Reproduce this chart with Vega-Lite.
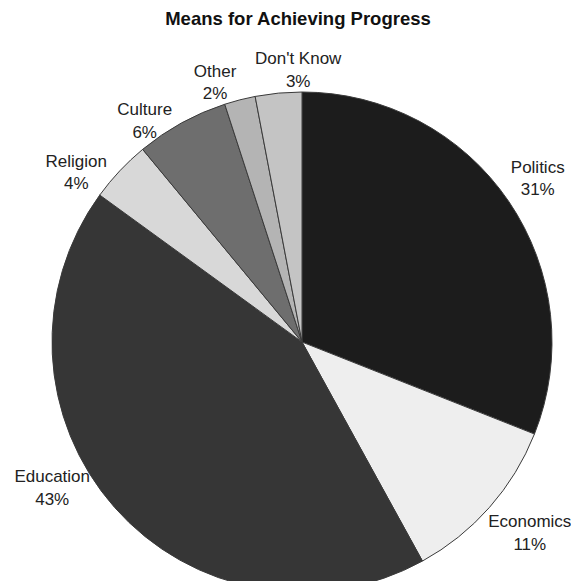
{
  "$schema": "https://vega.github.io/schema/vega-lite/v6.json",
  "width": 500,
  "height": 500,
  "autosize": {"type": "none"},
  "padding": {"left": 52, "top": 92, "right": 19, "bottom": 0},
  "background": "white",
  "title": {
    "text": "Means for Achieving Progress",
    "anchor": "middle",
    "offset": 20,
    "dy": 52,
    "dx": -4,
    "font": "Liberation Sans",
    "fontSize": 18.5,
    "fontWeight": "bold",
    "color": "#111111"
  },
  "data": {
    "values": [
      {"idx": 1, "category": "Politics", "pct": 31, "label": "Politics\n31%"},
      {"idx": 2, "category": "Economics", "pct": 11, "label": "Economics\n11%"},
      {"idx": 3, "category": "Education", "pct": 43, "label": "Education\n43%"},
      {"idx": 4, "category": "Religion", "pct": 4, "label": "Religion\n4%"},
      {"idx": 5, "category": "Culture", "pct": 6, "label": "Culture\n6%"},
      {"idx": 6, "category": "Other", "pct": 2, "label": "Other\n2%"},
      {"idx": 7, "category": "Don't Know", "pct": 3, "label": "Don't Know\n3%"}
    ]
  },
  "encoding": {
    "theta": {"field": "pct", "type": "quantitative", "stack": true},
    "order": {"field": "idx", "type": "quantitative"}
  },
  "layer": [
    {
      "mark": {"type": "arc", "outerRadius": 250, "stroke": "#3a3a3a", "strokeWidth": 1},
      "encoding": {
        "color": {
          "field": "category",
          "type": "nominal",
          "legend": null,
          "scale": {
            "domain": ["Politics", "Economics", "Education", "Religion", "Culture", "Other", "Don't Know"],
            "range": ["#1c1c1c", "#eeeeee", "#363636", "#d8d8d8", "#6e6e6e", "#b4b4b4", "#c4c4c4"]
          }
        }
      }
    },
    {
      "mark": {"type": "text", "radius": 285, "dy": -14, "font": "Liberation Sans", "fontSize": 17, "lineBreak": "\n", "lineHeight": 22.5, "align": "center", "baseline": "middle", "color": "#222222"},
      "encoding": {"text": {"condition": {"test": "datum.category == 'Politics'", "field": "label"}, "value": ""}}
    },
    {
      "mark": {"type": "text", "radius": 285, "dx": 14, "dy": -8, "font": "Liberation Sans", "fontSize": 17, "lineBreak": "\n", "lineHeight": 22.5, "align": "center", "baseline": "middle", "color": "#222222"},
      "encoding": {"text": {"condition": {"test": "datum.category == 'Economics'", "field": "label"}, "value": ""}}
    },
    {
      "mark": {"type": "text", "radius": 285, "dx": -36, "dy": -53, "font": "Liberation Sans", "fontSize": 17, "lineBreak": "\n", "lineHeight": 22.5, "align": "center", "baseline": "middle", "color": "#222222"},
      "encoding": {"text": {"condition": {"test": "datum.category == 'Education'", "field": "label"}, "value": ""}}
    },
    {
      "mark": {"type": "text", "radius": 285, "dx": -18, "dy": 15, "font": "Liberation Sans", "fontSize": 17, "lineBreak": "\n", "lineHeight": 22.5, "align": "center", "baseline": "middle", "color": "#222222"},
      "encoding": {"text": {"condition": {"test": "datum.category == 'Religion'", "field": "label"}, "value": ""}}
    },
    {
      "mark": {"type": "text", "radius": 285, "dx": -20, "dy": 18, "font": "Liberation Sans", "fontSize": 17, "lineBreak": "\n", "lineHeight": 22.5, "align": "center", "baseline": "middle", "color": "#222222"},
      "encoding": {"text": {"condition": {"test": "datum.category == 'Culture'", "field": "label"}, "value": ""}}
    },
    {
      "mark": {"type": "text", "radius": 285, "dx": -16, "dy": 6, "font": "Liberation Sans", "fontSize": 17, "lineBreak": "\n", "lineHeight": 22.5, "align": "center", "baseline": "middle", "color": "#222222"},
      "encoding": {"text": {"condition": {"test": "datum.category == 'Other'", "field": "label"}, "value": ""}}
    },
    {
      "mark": {"type": "text", "radius": 285, "dx": 23, "dy": 1, "font": "Liberation Sans", "fontSize": 17, "lineBreak": "\n", "lineHeight": 22.5, "align": "center", "baseline": "middle", "color": "#222222"},
      "encoding": {"text": {"condition": {"test": "datum.category == \"Don't Know\"", "field": "label"}, "value": ""}}
    }
  ]
}
